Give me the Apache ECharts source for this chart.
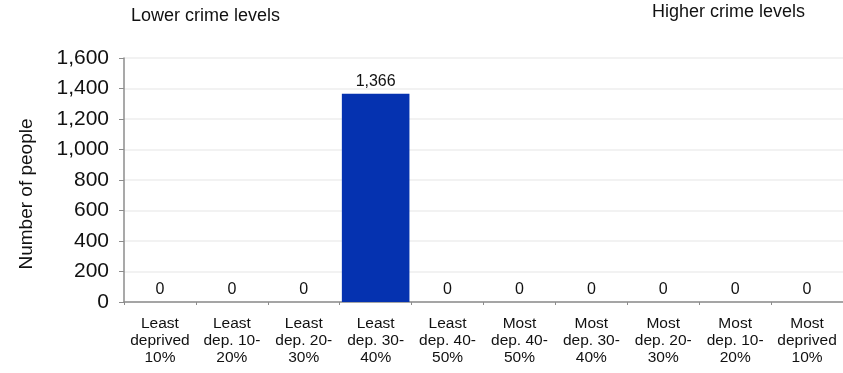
<!DOCTYPE html>
<html>
<head>
<meta charset="utf-8">
<script src="https://cdn.jsdelivr.net/npm/echarts@6/dist/echarts.min.js"></script>
<style>
  html, body { margin: 0; padding: 0; background: #fff; }
  #chart { width: 843px; height: 373px; }
</style>
</head>
<body>
<div id="chart"></div>
<script>
// categories along the deprivation scale
var categories = [
    'Least\ndeprived\n10%', 'Least\ndep. 10-\n20%', 'Least\ndep. 20-\n30%', 'Least\ndep. 30-\n40%',
    'Least\ndep. 40-\n50%', 'Most\ndep. 40-\n50%', 'Most\ndep. 30-\n40%', 'Most\ndep. 20-\n30%',
    'Most\ndep. 10-\n20%', 'Most\ndeprived\n10%'
];
var people = [0, 0, 0, 1366, 0, 0, 0, 0, 0, 0];
var yTicks = [0, 200, 400, 600, 800, 1000, 1200, 1400, 1600];

var myChart = echarts.init(document.getElementById('chart'));
var font = 'Liberation Sans, Arial, sans-serif';

function fmt(v) {
    return String(v).replace(/\B(?=(\d{3})+(?!\d))/g, ',');
}

var option = {
    animation: false,
    textStyle: { fontFamily: font },
    grid: { left: 124, right: -5, top: 58, bottom: 71 },
    xAxis: {
        type: 'category',
        data: categories,
        axisLine: { lineStyle: { color: '#8c8c8c', width: 1.5 } },
        axisTick: { show: true, length: 3, lineStyle: { color: '#8c8c8c' } },
        axisLabel: {
            interval: 0,
            margin: 13,
            fontSize: 15.5,
            lineHeight: 17,
            color: '#111',
            fontFamily: font
        }
    },
    yAxis: {
        type: 'value',
        min: yTicks[0],
        max: yTicks[yTicks.length - 1],
        interval: 200,
        axisLine: { show: true, lineStyle: { color: '#8c8c8c', width: 1.5 } },
        axisTick: { show: true, length: 5, lineStyle: { color: '#8c8c8c' } },
        splitLine: { lineStyle: { color: '#eeeeee', width: 1.5 } },
        axisLabel: {
            margin: 15,
            fontSize: 21,
            color: '#111',
            fontFamily: font,
            formatter: fmt
        }
    },
    series: [{
        type: 'bar',
        data: people,
        barCategoryGap: '6%',
        itemStyle: { color: '#0532b0' },
        label: {
            show: true,
            position: 'top',
            distance: 4,
            fontSize: 16,
            color: '#111',
            fontFamily: font,
            formatter: function (p) { return fmt(p.value); }
        }
    }],
    graphic: [
        {
            type: 'text', x: 131, y: 16,
            style: { text: 'Lower crime levels', fontSize: 18, fill: '#111', fontFamily: font, verticalAlign: 'middle' }
        },
        {
            type: 'text', x: 652, y: 12,
            style: { text: 'Higher crime levels', fontSize: 18, fill: '#111', fontFamily: font, verticalAlign: 'middle' }
        },
        {
            type: 'text', x: 27, y: 194, rotation: Math.PI / 2,
            style: {
                text: 'Number of people', fontSize: 19, fill: '#111', fontFamily: font,
                align: 'center', verticalAlign: 'middle'
            }
        }
    ]
};

myChart.setOption(option);
</script>
</body>
</html>
